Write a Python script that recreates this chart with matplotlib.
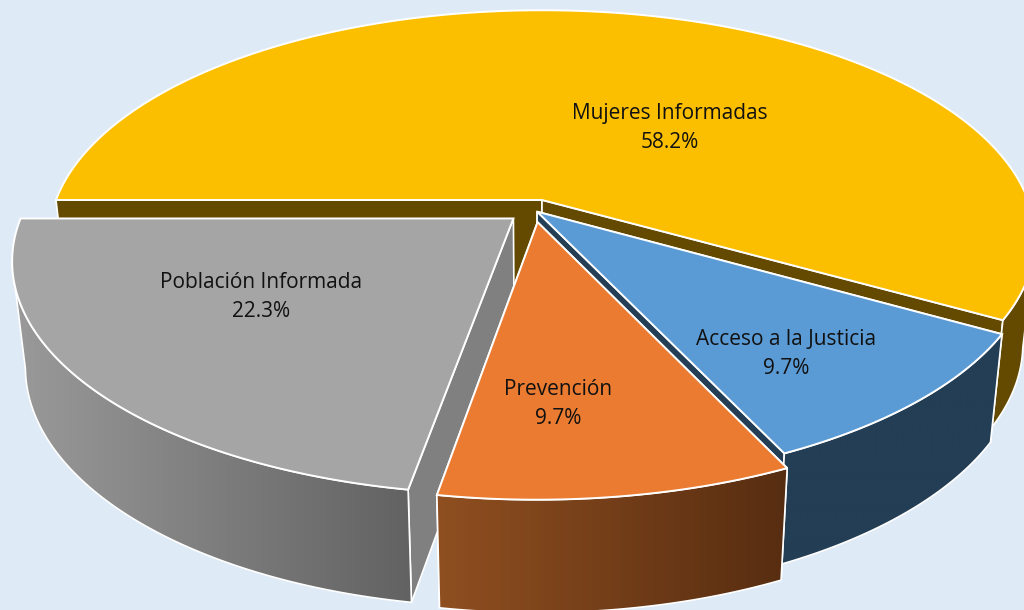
import numpy as np
import matplotlib
matplotlib.use('Agg')
import matplotlib.pyplot as plt
from matplotlib.patches import Polygon
from matplotlib.colors import LinearSegmentedColormap

# chart data
labels = ['Mujeres Informadas', 'Acceso a la Justicia', 'Prevención', 'Población Informada']
values = [58.2, 9.7, 9.7, 22.3]

# look of each slice, same order as the values
top_colors = ['#fcbf00', '#5b9bd5', '#eb7b31', '#a5a5a5']
side_colors = [('#644a00', '#644a00'), ('#233e55', '#233e55'),
               ('#8f4f20', '#572d11'), ('#9a9a9a', '#626262')]
cut_colors = ['#644a00', '#233e55', '#6e3c16', '#808080']
cut_ends = [(0, -1), (0, -1), (0, -1), (0,)]
# slice shift inside the plane of the pie
shifts = [(0.0, 0.0), (-0.010, -0.052), (-0.009, -0.098), (-0.058, -0.082)]
label_pos = [(670, 128), (786, 354), (558, 404), (261, 297)]

# perspective of the disc
CX, CY = 542, 200
RX, RY = 486, 222
PERSP = 0.17
DEPTH = 104
SHRINK_X = 0.975
SHRINK_Y = 1.03
BG = '#deeaf6'


def project(u, v, bottom=False):
    w = 1 + PERSP * v
    x = RX * u / w
    y = -RY * v / w
    if bottom:
        return CX + SHRINK_X * x, CY + SHRINK_Y * y + DEPTH
    return CX + x, CY + y


def fill_gradient(ax, poly, c0, c1, z):
    cmap = LinearSegmentedColormap.from_list('g', [c0, c1])
    x0, x1 = poly[:, 0].min(), poly[:, 0].max()
    y0, y1 = poly[:, 1].min(), poly[:, 1].max()
    im = ax.imshow(np.linspace(0, 1, 256)[None, :], extent=(x0, x1, y1, y0), cmap=cmap,
                   aspect='auto', zorder=z, interpolation='bilinear')
    p = Polygon(poly, closed=True, fc='none', ec='none', transform=ax.transData)
    ax.add_patch(p)
    im.set_clip_path(p)
    ax.add_patch(Polygon(poly, closed=True, fc='none', ec='white', lw=1.2, zorder=z + 0.1))


fig = plt.figure(figsize=(10.24, 6.1), dpi=100, facecolor=BG)
ax = fig.add_axes([0, 0, 1, 1])
ax.set_facecolor(BG)

# angles run clockwise from the left side of the pie
total = sum(values)
starts = 180 - np.cumsum([0] + values[:-1]) / total * 360
ends = 180 - np.cumsum(values) / total * 360

draw_order = [0, 1, 3, 2]
for n, i in enumerate(draw_order):
    z = 2 + n * 2
    t = np.radians(np.linspace(starts[i], ends[i], 200))
    su, sv = shifts[i]
    u = np.cos(t) + su
    v = np.sin(t) + sv

    apex_t = np.array(project(su, sv))
    apex_b = np.array(project(su, sv, True))
    arc_t = np.column_stack(project(u, v))
    arc_b = np.column_stack(project(u, v, True))

    # the cut faces that can be seen
    for end in cut_ends[i]:
        face = np.array([apex_t, arc_t[end], arc_b[end], apex_b])
        ax.add_patch(Polygon(face, closed=True, fc=cut_colors[i], ec='white', lw=1.2, zorder=z))

    # outer wall, only where x falls along the arc, that part faces the viewer
    wall_t = arc_t[np.gradient(arc_t[:, 0]) < 0]
    wall_b = arc_b[np.gradient(arc_b[:, 0]) < 0]
    wall = np.vstack([wall_t, wall_b[::-1]])
    c0, c1 = side_colors[i]
    fill_gradient(ax, wall, c0, c1, z + 0.2)

    top = np.vstack([[apex_t], arc_t])
    ax.add_patch(Polygon(top, closed=True, fc=top_colors[i], ec='white', lw=1.4, zorder=z + 0.5))

for lab, val, (x, y) in zip(labels, values, label_pos):
    ax.text(x, y, f'{lab}\n{val}%', ha='center', va='center', fontsize=15,
            family='Open Sans', color='#111111', linespacing=1.45, zorder=20)

ax.set_xlim(0, 1024)
ax.set_ylim(610, 0)
ax.axis('off')
fig.savefig('out.png', dpi=100, facecolor=BG)
